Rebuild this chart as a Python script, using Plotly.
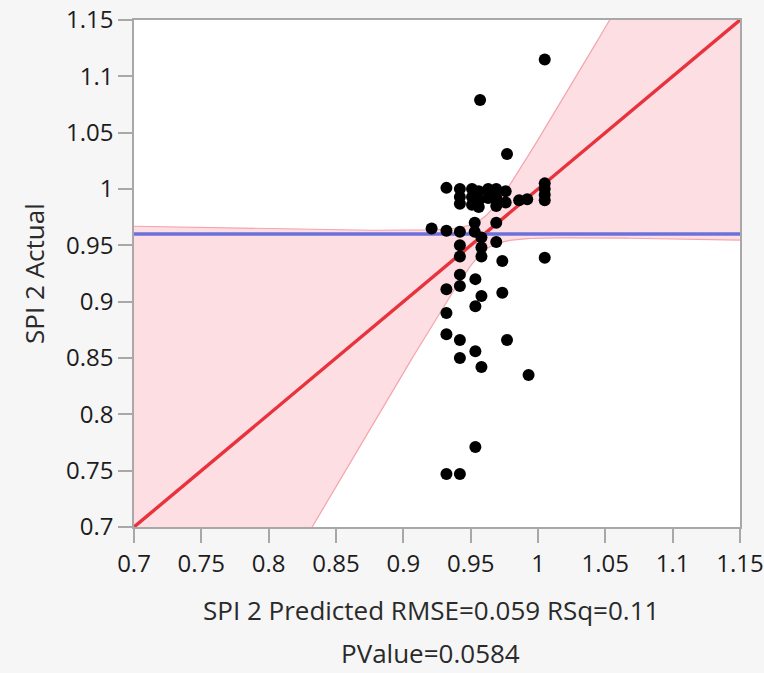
import numpy as np
import plotly.graph_objects as go

# SPI 2 Predicted (x) and SPI 2 Actual (y)
predicted = [1.005, 0.957, 0.977, 0.932, 0.942, 0.942, 0.942, 0.951, 0.951, 0.951,
             0.956, 0.956, 0.956, 0.963, 0.963, 0.969, 0.969, 0.969, 0.976, 0.976,
             0.986, 0.992, 1.005, 1.005, 1.005, 1.005, 0.921, 0.932, 0.942, 0.942,
             0.942, 0.953, 0.953, 0.958, 0.958, 0.958, 0.969, 0.969, 0.9735, 1.005,
             0.942, 0.942, 0.932, 0.9535, 0.958, 0.9535, 0.9735, 0.932, 0.932, 0.942,
             0.977, 0.9535, 0.942, 0.958, 0.993, 0.9535, 0.932, 0.942]
actual = [1.115, 1.079, 1.031, 1.001, 1.000, 0.993, 0.987, 1.000, 0.993, 0.986,
          0.998, 0.990, 0.984, 1.000, 0.992, 1.000, 0.992, 0.985, 0.998, 0.988,
          0.990, 0.991, 1.005, 1.000, 0.995, 0.990, 0.965, 0.963, 0.962, 0.950,
          0.940, 0.970, 0.962, 0.957, 0.948, 0.940, 0.970, 0.953, 0.936, 0.939,
          0.924, 0.914, 0.911, 0.920, 0.905, 0.896, 0.908, 0.890, 0.871, 0.866,
          0.866, 0.856, 0.850, 0.842, 0.835, 0.771, 0.747, 0.747]

tick_vals = [0.7, 0.75, 0.8, 0.85, 0.9, 0.95, 1.0, 1.05, 1.1, 1.15]
tick_text = ["0.7", "0.75", "0.8", "0.85", "0.9", "0.95", "1", "1.05", "1.1", "1.15"]

# fit summary
mean_actual = 0.96
fit_slope = 1.0
band_c = 0.015
band_d = 1.025
x_title = "SPI 2 Predicted RMSE=0.059 RSq=0.11"
x_title2 = "PValue=0.0584"
y_title = "SPI 2 Actual"

xg = np.linspace(0.7, 1.15, 301)
fit = mean_actual + fit_slope * (xg - mean_actual)
half = np.sqrt(band_c ** 2 + (band_d * (xg - mean_actual)) ** 2)
upper = fit + half
lower = fit - half

fig = go.Figure()
fig.add_trace(go.Scatter(x=xg, y=lower, mode="lines", line=dict(color="#f4a4ac", width=1.2),
                         hoverinfo="skip", showlegend=False))
fig.add_trace(go.Scatter(x=xg, y=upper, mode="lines", line=dict(color="#f4a4ac", width=1.2),
                         fill="tonexty", fillcolor="rgba(250,205,212,0.65)",
                         hoverinfo="skip", showlegend=False))
fig.add_trace(go.Scatter(x=[0.7, 1.15], y=[mean_actual + fit_slope * (0.7 - mean_actual),
                                            mean_actual + fit_slope * (1.15 - mean_actual)],
                         mode="lines", line=dict(color="#e8323c", width=3.4), showlegend=False))
fig.add_trace(go.Scatter(x=[0.7, 1.15], y=[mean_actual, mean_actual], mode="lines",
                         line=dict(color="#6c70dc", width=3.4), showlegend=False))
fig.add_trace(go.Scatter(x=predicted, y=actual, mode="markers",
                         marker=dict(color="black", size=12, line=dict(width=0)),
                         showlegend=False))

axis_common = dict(
    tickvals=tick_vals, ticktext=tick_text, showgrid=False, zeroline=False,
    showline=True, linecolor="#a8a8a8", linewidth=1.5, mirror=True,
    ticks="outside", ticklen=14, tickwidth=1.5, tickcolor="#a8a8a8",
    tickfont=dict(family="Open Sans", size=24, color="#1c1c1c"),
    ticklabeloverflow="allow", automargin=False,
)
fig.update_xaxes(range=[0.7, 1.15], **axis_common)
fig.update_yaxes(range=[0.7, 1.15], **axis_common)

title_font = dict(family="Open Sans", size=26, color="#2a2a2a")
fig.add_annotation(text=x_title, xref="paper", yref="paper", x=0.49, y=-0.164,
                   showarrow=False, yanchor="middle", font=title_font)
fig.add_annotation(text=x_title2, xref="paper", yref="paper", x=0.49, y=-0.2485,
                   showarrow=False, yanchor="middle", font=title_font)
fig.add_annotation(text=y_title, xref="paper", yref="paper", x=-0.166, y=0.5,
                   showarrow=False, textangle=-90, xanchor="center", yanchor="middle",
                   font=title_font)

fig.update_layout(
    width=764, height=673,
    margin=dict(l=134, r=24, t=20, b=146, autoexpand=False),
    paper_bgcolor="#f6f6f6", plot_bgcolor="white",
)
fig.write_html("out.html", config={"displayModeBar": False},
               post_script="document.body.style.margin='0';document.body.style.overflow='hidden';")
